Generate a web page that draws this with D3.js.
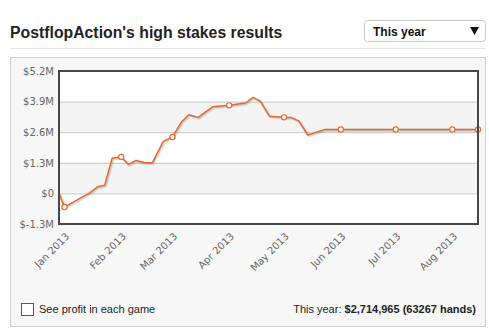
<!DOCTYPE html>
<html>
<head>
<meta charset="utf-8">
<script src="https://cdn.jsdelivr.net/npm/d3@7/dist/d3.min.js"></script>
<style>
  html, body { margin: 0; padding: 0; background: #ffffff; }
  svg { display: block; }
</style>
</head>
<body>
<svg id="chart" width="489" height="336"></svg>
<script>
// Cumulative profit (millions of dollars) at each session date
const dates = [
  "2012-12-29", "2013-01-01", "2013-01-15", "2013-01-19", "2013-01-23", "2013-01-27",
  "2013-02-01", "2013-02-05", "2013-02-09", "2013-02-14", "2013-02-18", "2013-02-24",
  "2013-03-01", "2013-03-06", "2013-03-10", "2013-03-15", "2013-03-23",
  "2013-04-01", "2013-04-10", "2013-04-14", "2013-04-18", "2013-04-23",
  "2013-05-01", "2013-05-05", "2013-05-09", "2013-05-14", "2013-05-23",
  "2013-06-01", "2013-07-01", "2013-08-01", "2013-08-15"
];
const profit = [
  0.00, -0.58, 0.03, 0.28, 0.35, 1.49,
  1.55, 1.23, 1.40, 1.30, 1.30, 2.21,
  2.40, 3.04, 3.34, 3.23, 3.68,
  3.74, 3.84, 4.08, 3.92, 3.28,
  3.23, 3.22, 3.08, 2.48, 2.71,
  2.715, 2.715, 2.715, 2.715
];
// Dates that carry a point marker
const markedDates = [
  "2013-01-01", "2013-02-01", "2013-03-01", "2013-04-01",
  "2013-05-01", "2013-06-01", "2013-07-01", "2013-08-01", "2013-08-15"
];
// Axis ticks
const monthTicks = [
  "2013-01-01", "2013-02-01", "2013-03-01", "2013-04-01",
  "2013-05-01", "2013-06-01", "2013-07-01", "2013-08-01"
];
const monthLabels = ["Jan 2013", "Feb 2013", "Mar 2013", "Apr 2013", "May 2013", "Jun 2013", "Jul 2013", "Aug 2013"];
const yTicks = [-1.3, 0, 1.3, 2.6, 3.9, 5.2];
const yLabels = ["$-1.3M", "$0", "$1.3M", "$2.6M", "$3.9M", "$5.2M"];

const titleText = "PostflopAction's high stakes results";
const periodText = "This year";
const checkboxText = "See profit in each game";
const summaryLead = "This year: ";
const summaryValue = "$2,714,965 (63267 hands)";

const parse = d3.utcParse("%Y-%m-%d");
const data = dates.map((d, i) => ({ date: parse(d), value: profit[i], marked: markedDates.includes(d) }));

const svg = d3.select("#chart");
const plot = { left: 59, right: 478, top: 71, bottom: 224 };

// Header
svg.append("text")
  .attr("x", 10).attr("y", 38)
  .attr("font-family", "Liberation Sans, Arial, sans-serif")
  .attr("font-weight", "bold").attr("font-size", 15.8)
  .attr("fill", "#222")
  .text(titleText);

const dd = svg.append("g");
dd.append("rect")
  .attr("x", 364.5).attr("y", 20.5).attr("width", 121).attr("height", 21).attr("rx", 3)
  .attr("fill", "#fff").attr("stroke", "#c8c8c8");
dd.append("text")
  .attr("x", 373).attr("y", 36)
  .attr("font-family", "Liberation Sans, Arial, sans-serif")
  .attr("font-weight", "bold").attr("font-size", 12).attr("fill", "#111")
  .text(periodText);
dd.append("path")
  .attr("d", "M470,27 L479,27 L474.5,35 Z")
  .attr("fill", "#111");

svg.append("line")
  .attr("x1", 10).attr("x2", 486).attr("y1", 48.5).attr("y2", 48.5)
  .attr("stroke", "#e4e4e4");

// Chart panel
svg.append("rect")
  .attr("x", 10.5).attr("y", 57.5).attr("width", 475).attr("height", 269)
  .attr("fill", "#f7f7f7").attr("stroke", "#cfcfcf");

const x = d3.scaleUtc()
  .domain(d3.extent(data, d => d.date))
  .range([plot.left, plot.right]);
const y = d3.scaleLinear()
  .domain([yTicks[0], yTicks[yTicks.length - 1]])
  .range([plot.bottom, plot.top]);

// Plot background with alternating bands
svg.append("rect")
  .attr("x", plot.left).attr("y", plot.top)
  .attr("width", plot.right - plot.left).attr("height", plot.bottom - plot.top)
  .attr("fill", "#fff");
const bands = [[2.6, 3.9], [0, 1.3]];
svg.selectAll(".band").data(bands).join("rect")
  .attr("class", "band")
  .attr("x", plot.left).attr("width", plot.right - plot.left)
  .attr("y", d => y(d[1])).attr("height", d => y(d[0]) - y(d[1]))
  .attr("fill", "#f4f4f4");

// Y axis with gridlines
const yAxis = d3.axisLeft(y)
  .tickValues(yTicks)
  .tickFormat((d, i) => yLabels[i])
  .tickSize(-(plot.right - plot.left))
  .tickPadding(5);
const gy = svg.append("g").attr("transform", `translate(${plot.left},0)`).call(yAxis);
gy.select(".domain").remove();
gy.selectAll(".tick line").attr("stroke", "#c6c6c6");
gy.selectAll(".tick text")
  .attr("font-family", "DejaVu Sans, Verdana, sans-serif")
  .attr("font-size", 10).attr("fill", "#666");

// X axis with rotated month labels
const xAxis = d3.axisBottom(x)
  .tickValues(monthTicks.map(parse))
  .tickFormat((d, i) => monthLabels[i])
  .tickSize(0);
const gx = svg.append("g").attr("transform", `translate(0,${plot.bottom})`).call(xAxis);
gx.select(".domain").remove();
gx.selectAll(".tick text")
  .attr("font-family", "DejaVu Sans, Verdana, sans-serif")
  .attr("font-size", 10).attr("fill", "#666")
  .attr("text-anchor", "end")
  .attr("dy", null).attr("y", 0)
  .attr("transform", "translate(5,13) rotate(-45)");

// Profit line with soft shadow
const line = d3.line().x(d => x(d.date)).y(d => y(d.value));
[[4, 0.04], [2.5, 0.07], [1, 0.1]].forEach(([w, o]) => {
  svg.append("path").datum(data)
    .attr("d", line).attr("fill", "none")
    .attr("stroke", "#000").attr("stroke-opacity", o).attr("stroke-width", w)
    .attr("stroke-linejoin", "round")
    .attr("transform", "translate(1,1)");
});
svg.append("path").datum(data)
  .attr("d", line).attr("fill", "none")
  .attr("stroke", "#e8692e").attr("stroke-width", 1.5)
  .attr("stroke-linejoin", "round");

svg.selectAll(".pt").data(data.filter(d => d.marked)).join("circle")
  .attr("class", "pt")
  .attr("cx", d => x(d.date)).attr("cy", d => y(d.value)).attr("r", 2.6)
  .attr("fill", "#fff").attr("stroke", "#e8692e").attr("stroke-width", 1.2);

// Plot frame
svg.append("rect")
  .attr("x", plot.left).attr("y", plot.top)
  .attr("width", plot.right - plot.left).attr("height", plot.bottom - plot.top)
  .attr("fill", "none").attr("stroke", "#464646").attr("stroke-width", 2);

// Footer
svg.append("rect")
  .attr("x", 21.5).attr("y", 303.5).attr("width", 12).attr("height", 12)
  .attr("fill", "#fff").attr("stroke", "#555");
svg.append("text")
  .attr("x", 39).attr("y", 313)
  .attr("font-family", "Liberation Sans, Arial, sans-serif")
  .attr("font-size", 11).attr("fill", "#222")
  .text(checkboxText);
const summary = svg.append("text")
  .attr("x", 476).attr("y", 313).attr("text-anchor", "end")
  .attr("font-family", "Liberation Sans, Arial, sans-serif")
  .attr("font-size", 11).attr("fill", "#222");
summary.append("tspan").text(summaryLead);
summary.append("tspan").attr("font-weight", "bold").text(summaryValue);
</script>
</body>
</html>
